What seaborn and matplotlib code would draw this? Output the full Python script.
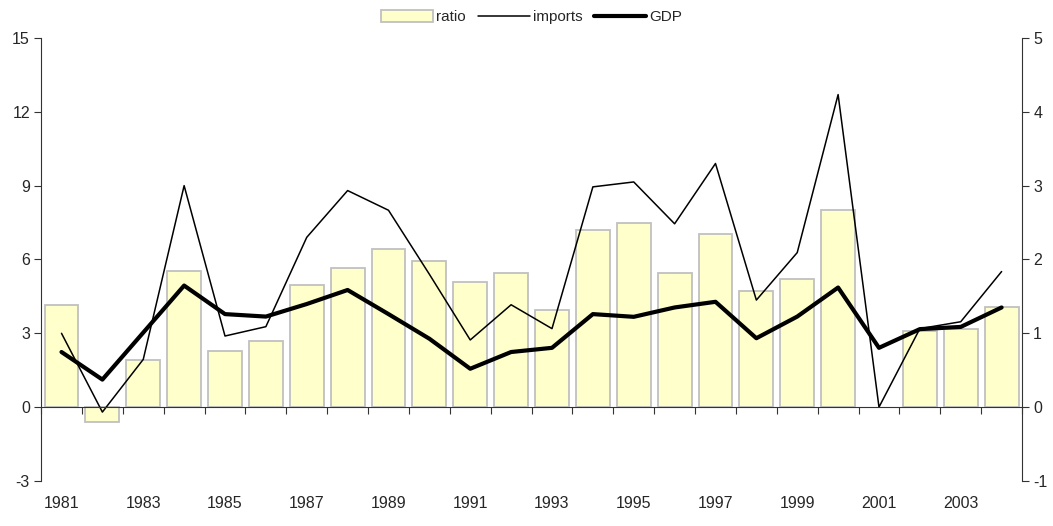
import numpy as np
import pandas as pd
import matplotlib
matplotlib.use('Agg')
import matplotlib.pyplot as plt
import seaborn as sns
from matplotlib.patches import Patch
from matplotlib.lines import Line2D

years = list(range(1981, 2005))
ratio = [1.38, -0.20, 0.64, 1.85, 0.76, 0.90, 1.65, 1.88, 2.14, 1.98, 1.69, 1.82,
         1.31, 2.40, 2.49, 1.82, 2.35, 1.57, 1.73, 2.67, 0.0, 1.03, 1.06, 1.35]
imports = [3.0, -0.2, 1.94, 9.0, 2.89, 3.27, 6.9, 8.8, 8.0, 5.4, 2.73, 4.16,
           3.19, 8.95, 9.15, 7.45, 9.9, 4.35, 6.28, 12.7, 0.0, 3.19, 3.47, 5.51]
gdp = [2.24, 1.12, 3.03, 4.94, 3.78, 3.68, 4.19, 4.76, 3.78, 2.78, 1.56, 2.24,
       2.41, 3.78, 3.67, 4.05, 4.28, 2.80, 3.68, 4.86, 2.41, 3.17, 3.26, 4.05]

df = pd.DataFrame({'year': years, 'ratio': ratio, 'imports': imports, 'GDP': gdp})
df['pos'] = np.arange(len(df))

sns.set_style('white')
plt.rcParams['font.family'] = ['Liberation Sans', 'DejaVu Sans']
plt.rcParams['axes.unicode_minus'] = False

fig = plt.figure(figsize=(10.53, 5.26), dpi=100)
ax = fig.add_axes([0.039, 0.0856, 0.9316, 0.8422])
ax2 = ax.twinx()

# bars on the right-hand scale
sns.barplot(data=df, x='pos', y='ratio', ax=ax2, color='#FFFFCC', width=0.83,
            edgecolor='#C0C0C0', linewidth=1.3, saturation=1, native_scale=True)
for p in ax2.patches:
    p.set_facecolor('#FFFFCC')
    if p.get_height() == 0:
        p.set_visible(False)

# lines on the left-hand scale
sns.lineplot(data=df, x='pos', y='imports', ax=ax, color='black', linewidth=1.1)
sns.lineplot(data=df, x='pos', y='GDP', ax=ax, color='black', linewidth=3.0)

ax.set_zorder(ax2.get_zorder() + 1)
ax.patch.set_visible(False)

ax.set_xlim(-0.5, len(df) - 0.5)
ax.set_ylim(-3, 15)
ax2.set_ylim(-1, 5)
ax.set_yticks(np.arange(-3, 16, 3))
ax2.set_yticks(np.arange(-1, 6, 1))

odd = df[df['year'] % 2 == 1]
ax.set_xticks(odd['pos'])
ax.set_xticklabels(odd['year'])
ax.set_xticks(np.arange(-0.5, len(df), 1), minor=True)
ax.tick_params(axis='x', which='major', bottom=True, length=0, pad=64, labelsize=11.5)
ax.tick_params(axis='x', which='minor', bottom=True, length=5, width=0.8,
               color='#333333', direction='out')
ax.tick_params(axis='y', left=True, length=5, width=0.8, color='#333333',
               labelsize=11.5, pad=3)
ax2.tick_params(axis='y', right=True, length=5, width=0.8, color='#333333',
                labelsize=11.5, pad=3)

ax.set_xlabel('')
ax.set_ylabel('')
ax2.set_xlabel('')
ax2.set_ylabel('')

for a in (ax, ax2):
    a.spines['top'].set_visible(False)
    for s in a.spines.values():
        s.set_color('#333333')
        s.set_linewidth(0.8)
ax.spines['right'].set_visible(False)
ax2.spines['left'].set_visible(False)
ax2.spines['bottom'].set_visible(False)
ax.spines['bottom'].set_position(('data', 0))
ax.yaxis.tick_left()
ax2.yaxis.tick_right()

handles = [Patch(facecolor='#FFFFCC', edgecolor='#C0C0C0', linewidth=1.3),
           Line2D([0], [0], color='black', linewidth=1.1),
           Line2D([0], [0], color='black', linewidth=3.0)]
leg = ax.legend(handles, ['ratio', 'imports', 'GDP'], loc='lower center',
                bbox_to_anchor=(0.5, 1.0), ncol=3, frameon=False, fontsize=11,
                handlelength=3.4, handletextpad=0.2, columnspacing=0.8,
                borderaxespad=0.5, handleheight=0.8)

fig.savefig('out.png', dpi=100)
